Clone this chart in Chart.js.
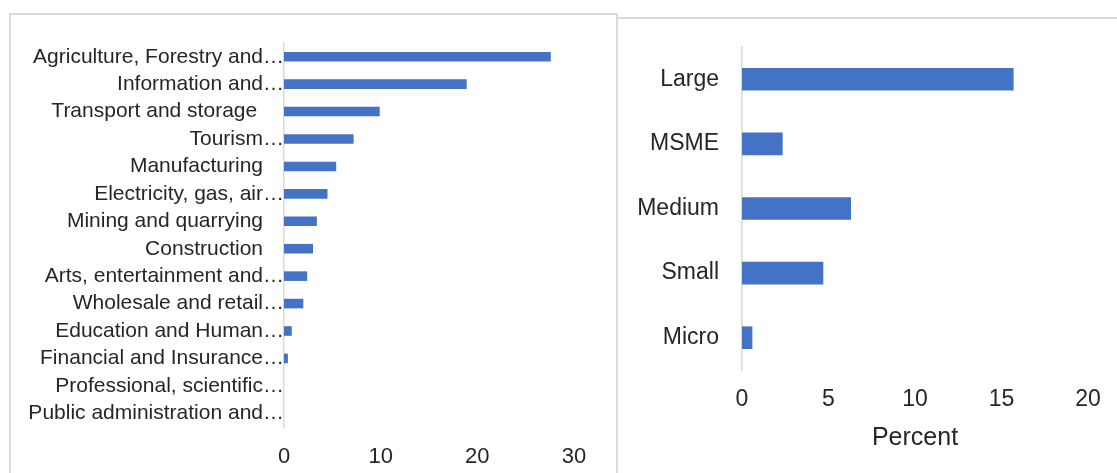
<!DOCTYPE html>
<html>
<head>
<meta charset="utf-8">
<script src="https://cdn.jsdelivr.net/npm/chart.js@4/dist/chart.umd.min.js"></script>
<style>
  html, body { margin: 0; padding: 0; background: #fff; overflow: hidden; }
  .panel { position: absolute; border: 2px solid #dcdcdc; border-bottom: none; background: #fff; }
  .panel canvas { display: block; }
  #sectorPanel { left: 9px; top: 13px; width: 605px; height: 470px; }
  #sizePanel { left: 616px; top: 17px; width: 510px; height: 470px; border-right: none; }
</style>
</head>
<body>
<div class="panel" id="sectorPanel"><canvas id="sectorChart" width="605" height="460"></canvas></div>
<div class="panel" id="sizePanel"><canvas id="sizeChart" width="499" height="454"></canvas></div>
<script>
// Share by sector (labels are shortened the way the axis shows them)
const sectors = [
  'Agriculture, Forestry and…',
  'Information and…',
  'Transport and storage ',
  'Tourism…',
  'Manufacturing',
  'Electricity, gas, air…',
  'Mining and quarrying',
  'Construction',
  'Arts, entertainment and…',
  'Wholesale and retail…',
  'Education and Human…',
  'Financial and Insurance…',
  'Professional, scientific…',
  'Public administration and…'
];
const sectorShares = [27.6, 18.9, 9.9, 7.2, 5.4, 4.5, 3.4, 3.0, 2.4, 2.0, 0.8, 0.4, 0, 0];
const sectorTicks = [0, 10, 20, 30];

// Share by firm size
const firmSizes = ['Large', 'MSME', 'Medium', 'Small', 'Micro'];
const firmShares = [15.7, 2.35, 6.3, 4.7, 0.6];
const firmTicks = [0, 5, 10, 15, 20];

const BAR_BLUE = '#4472C4';
const TEXT = '#262626';
const AXIS_LINE = '#d9d9d9';
const FONT = 'Liberation Sans, Arial, sans-serif';

function drawHorizontalBars(canvasId, labels, values, ticks, cfg) {
  return new Chart(document.getElementById(canvasId), {
    type: 'bar',
    data: {
      labels: labels,
      datasets: [{
        data: values,
        backgroundColor: BAR_BLUE,
        borderWidth: 0,
        categoryPercentage: 1,
        barPercentage: 0.35
      }]
    },
    options: {
      indexAxis: 'y',
      responsive: false,
      animation: false,
      devicePixelRatio: 1,
      layout: { padding: cfg.padding },
      plugins: { legend: { display: false }, tooltip: { enabled: false } },
      scales: {
        y: {
          grid: { display: false, drawTicks: false },
          border: { display: true, color: AXIS_LINE, width: 1.5 },
          ticks: {
            color: TEXT,
            padding: 0,
            autoSkip: false,
            font: { family: FONT, size: cfg.labelSize },
            callback: function (value) {
              const text = labels[value];
              // full names keep a gap before the axis, clipped ones run up to it
              return text.endsWith('…') ? text : text + cfg.gap;
            }
          },
          afterFit: function (scale) { scale.width = cfg.yWidth; }
        },
        x: {
          min: ticks[0],
          max: ticks[ticks.length - 1],
          grid: { display: false, drawTicks: false },
          border: { display: false },
          ticks: {
            stepSize: ticks[1] - ticks[0],
            color: TEXT,
            padding: cfg.tickPad,
            font: { family: FONT, size: cfg.tickSize }
          },
          title: cfg.title ? {
            display: true,
            text: cfg.title,
            color: TEXT,
            padding: 0,
            font: { family: FONT, size: cfg.titleSize }
          } : { display: false },
          afterFit: function (scale) { scale.height = cfg.xHeight; }
        }
      }
    }
  });
}

drawHorizontalBars('sectorChart', sectors, sectorShares, sectorTicks, {
  padding: { top: 28, right: 42, bottom: 0, left: 0 },
  yWidth: 273,
  xHeight: 48,
  labelSize: 21,
  tickPad: 17,
  tickSize: 22,
  gap: '\u2003'
});

drawHorizontalBars('sizeChart', firmSizes, firmShares, firmTicks, {
  padding: { top: 28, right: 29, bottom: 20, left: 0 },
  yWidth: 124,
  xHeight: 83,
  labelSize: 23,
  tickPad: 16,
  tickSize: 23,
  title: 'Percent',
  titleSize: 25,
  gap: '\u2003'
});
</script>
</body>
</html>
